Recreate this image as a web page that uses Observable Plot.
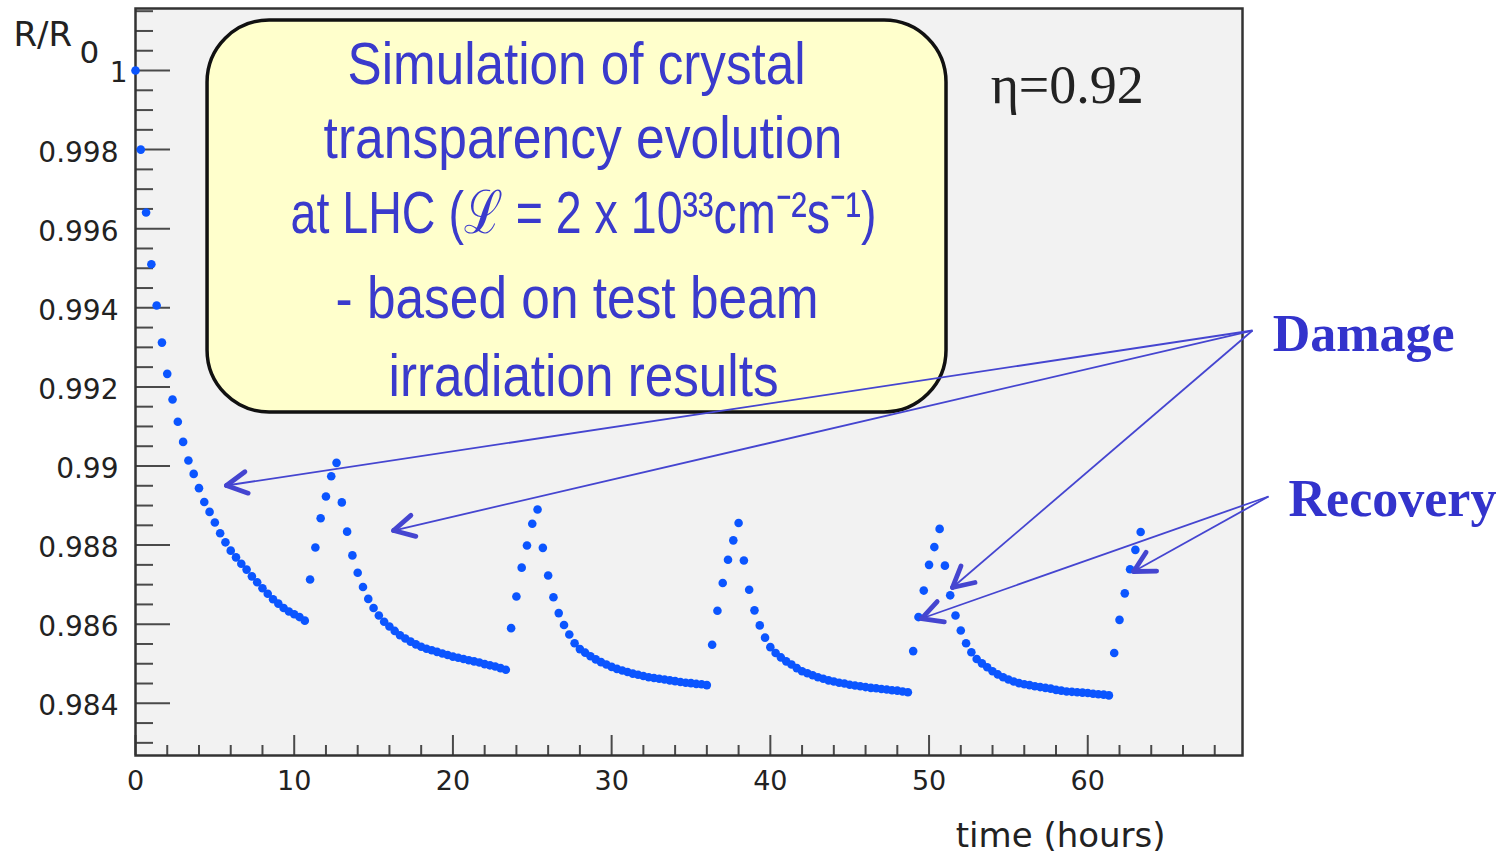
<!DOCTYPE html>
<html>
<head>
<meta charset="utf-8">
<script src="https://cdn.jsdelivr.net/npm/d3@7"></script>
<script src="https://cdn.jsdelivr.net/npm/@observablehq/plot@0.6"></script>
<style>
  html, body { margin: 0; padding: 0; background: #ffffff; }
  #chart svg { display: block; }
</style>
</head>
<body>
<div id="chart"></div>
<script>
// ---------------- DATA ----------------
// Sampling interval of the simulated points (minutes)
const stepMinutes = 20;

// R/R0, one value per sample (every 20 min from t = 0)
const ratio = [
  // fill 1 (damage)
  1.00000, 0.99800, 0.99641, 0.99510, 0.99406, 0.99312, 0.99233, 0.99168, 0.99112, 0.99061,
  0.99014, 0.98980, 0.98944, 0.98909, 0.98884, 0.98857, 0.98830, 0.98807, 0.98786, 0.98769,
  0.98753, 0.98738, 0.98721, 0.98706, 0.98691, 0.98677, 0.98663, 0.98652, 0.98641, 0.98632,
  0.98625, 0.98618, 0.98609,
  // recovery 1
  0.98713, 0.98794, 0.98868, 0.98923, 0.98974,
  // fill 2
  0.99008, 0.98908, 0.98834, 0.98774, 0.98730, 0.98694, 0.98664, 0.98641, 0.98622, 0.98606,
  0.98594, 0.98583, 0.98572, 0.98564, 0.98556, 0.98549, 0.98543, 0.98538, 0.98534, 0.98530,
  0.98526, 0.98522, 0.98518, 0.98515, 0.98512, 0.98509, 0.98506, 0.98503, 0.98499, 0.98496,
  0.98493, 0.98489, 0.98485,
  // recovery 2
  0.98590, 0.98670, 0.98743, 0.98799, 0.98854,
  // fill 3
  0.98890, 0.98793, 0.98723, 0.98668, 0.98628, 0.98598, 0.98574, 0.98552, 0.98537, 0.98528,
  0.98519, 0.98511, 0.98504, 0.98498, 0.98492, 0.98487, 0.98483, 0.98479, 0.98475, 0.98472,
  0.98469, 0.98466, 0.98464, 0.98462, 0.98460, 0.98458, 0.98456, 0.98454, 0.98452, 0.98451,
  0.98449, 0.98448, 0.98446,
  // recovery 3
  0.98548, 0.98634, 0.98704, 0.98763, 0.98812,
  // fill 4
  0.98856, 0.98761, 0.98687, 0.98635, 0.98597, 0.98566, 0.98542, 0.98527, 0.98516, 0.98506,
  0.98498, 0.98489, 0.98481, 0.98476, 0.98471, 0.98466, 0.98462, 0.98458, 0.98455, 0.98452,
  0.98450, 0.98447, 0.98445, 0.98443, 0.98441, 0.98439, 0.98438, 0.98436, 0.98435, 0.98433,
  0.98432, 0.98430, 0.98428,
  // recovery 4
  0.98532, 0.98618, 0.98685, 0.98750, 0.98795,
  // fill 5
  0.98841, 0.98748, 0.98673, 0.98622, 0.98584, 0.98552, 0.98529, 0.98512, 0.98501, 0.98491,
  0.98481, 0.98473, 0.98466, 0.98460, 0.98455, 0.98451, 0.98448, 0.98446, 0.98443, 0.98441,
  0.98439, 0.98437, 0.98434, 0.98432, 0.98430, 0.98429, 0.98428, 0.98427, 0.98426, 0.98424,
  0.98423, 0.98422, 0.98420,
  // recovery 5
  0.98527, 0.98611, 0.98678, 0.98739, 0.98788, 0.98833
];

// Tick values
const xMajorTicks = [0, 10, 20, 30, 40, 50, 60];
const yMajorTicks = [0.984, 0.986, 0.988, 0.99, 0.992, 0.994, 0.996, 0.998, 1];

// Text content
const yAxisTitle = "R/R";
const yAxisTitleSub = "0";
const xAxisTitle = "time (hours)";
const etaLabel = "η=0.92";
const boxLines = [
  "Simulation of crystal",
  "transparency evolution",
  "at LHC (ℒ = 2 x 10³³cm⁻²s⁻¹)",
  "- based on test beam",
  "irradiation results"
];
const arrowLabels = ["Damage", "Recovery"];

// Annotation anchors (data units: hours, R/R0)
const boxLineCenterX = [27.79, 28.2, 28.23, 27.82, 28.23];
const boxLineBaseline = [0.99965, 0.99778, 0.99590, 0.99373, 0.99178];
const boxCorners = {x1: 4.54, x2: 51.1, y1: 0.991353, y2: 1.001264};
const arrowSources = [
  {x: 70.38, y: 0.993426}, // Damage
  {x: 71.39, y: 0.989229}  // Recovery
];
const arrowTips = [
  {src: 0, x: 5.73,  y: 0.989507},
  {src: 0, x: 16.26, y: 0.988369},
  {src: 0, x: 51.48, y: 0.986928},
  {src: 1, x: 49.53, y: 0.986144},
  {src: 1, x: 62.89, y: 0.987332}
];
const arrowLabelPos = [
  {x: 71.65, y: 0.99292},
  {x: 72.65, y: 0.988748}
];
const etaPos = {x: 53.88, y: 0.999166};
const yTitlePos = {x: -7.69, y: 1.000632};
const yTitleSubPos = {x: -3.53, y: 1.000202};
const xTitlePos = {x: 64.9, y: 0.980354};

// ---------------- LAYOUT / STYLE ----------------
const W = 1507, H = 855;
const mLeft = 135, mRight = 265, mTop = 8, mBottom = 100;
const xDomain = [0, 69.75];
const yDomain = [0.98268, 1.001568];
// rendered widths (px) of the condensed box lines
const boxLineWidthPx = [458, 519, 586, 483, 390];

const points = ratio.map((v, i) => ({t: i * stepMinutes / 60, v}));

const yMinorTicks = d3.range(1966, 2004).map(i => i / 2000)
  .filter(v => !yMajorTicks.some(m => Math.abs(m - v) < 1e-9));
const xMinorTicks = d3.range(2, 70, 2).filter(v => v % 10 !== 0);

// pixels per data unit (for arrowhead geometry)
const kx = (W - mLeft - mRight) / (xDomain[1] - xDomain[0]);
const ky = (H - mTop - mBottom) / (yDomain[1] - yDomain[0]);
const headLen = 23, headHalfAngle = 28;

const shafts = arrowTips.map(t => ({
  x1: arrowSources[t.src].x, y1: arrowSources[t.src].y, x2: t.x, y2: t.y
}));
const wings = arrowTips.flatMap(t => {
  const s = arrowSources[t.src];
  const px = (s.x - t.x) * kx, py = -(s.y - t.y) * ky;
  const len = Math.hypot(px, py);
  const ux = px / len, uy = py / len;
  return [-1, 1].map(sg => {
    const a = sg * headHalfAngle * Math.PI / 180;
    const wx = (ux * Math.cos(a) - uy * Math.sin(a)) * headLen;
    const wy = (ux * Math.sin(a) + uy * Math.cos(a)) * headLen;
    return {x1: t.x, y1: t.y, x2: t.x + wx / kx, y2: t.y - wy / ky};
  });
});

const frameW = W - mLeft - mRight, frameH = H - mTop - mBottom;
const blue = "#3a3acc";
const arrowBlue = "#4545d0";
const axisGray = "#4a4a4a";
const fmt = d => String(Math.round(d * 1e4) / 1e4);

const chart = Plot.plot({
  width: W,
  height: H,
  marginLeft: mLeft,
  marginRight: mRight,
  marginTop: mTop,
  marginBottom: mBottom,
  style: {fontFamily: "DejaVu Sans, sans-serif", background: "#ffffff", color: "#222"},
  x: {domain: xDomain},
  y: {domain: yDomain},
  marks: [
    Plot.frame({fill: "#f2f2f2", stroke: null}),
    // inward ticks
    Plot.tickY(yMajorTicks, {y: d => d, stroke: axisGray, strokeWidth: 2, insetRight: frameW - 35}),
    Plot.tickY(yMinorTicks, {y: d => d, stroke: axisGray, strokeWidth: 2, insetRight: frameW - 18}),
    Plot.tickX(xMajorTicks, {x: d => d, stroke: axisGray, strokeWidth: 2, insetTop: frameH - 20}),
    Plot.tickX(xMinorTicks, {x: d => d, stroke: axisGray, strokeWidth: 2, insetTop: frameH - 10}),
    Plot.frame({stroke: "#333", strokeWidth: 2.5}),
    Plot.axisY({ticks: yMajorTicks.filter(d => d !== 1), tickSize: 0, tickPadding: 17, fontSize: 28,
      label: null, tickFormat: fmt, dy: 3}),
    Plot.axisY({ticks: [1], tickSize: 0, tickPadding: 8, fontSize: 28, label: null, tickFormat: fmt, dy: 3}),
    Plot.axisX({ticks: xMajorTicks, tickSize: 0, tickPadding: 15, fontSize: 27, label: null}),
    // axis titles
    Plot.text([yAxisTitle], {x: yTitlePos.x, y: yTitlePos.y, text: d => d, textAnchor: "start",
      lineAnchor: "bottom", fontSize: 34, fill: "#222"}),
    Plot.text([yAxisTitleSub], {x: yTitleSubPos.x, y: yTitleSubPos.y, text: d => d, textAnchor: "start",
      lineAnchor: "bottom", fontSize: 31, fill: "#222"}),
    Plot.text([xAxisTitle], {x: xTitlePos.x, y: xTitlePos.y, text: d => d, textAnchor: "end",
      lineAnchor: "bottom", fontSize: 34, fill: "#222"}),
    // data
    Plot.dot(points, {x: "t", y: "v", r: 4.3, fill: "#0b55ff", stroke: null}),
    // annotation box
    Plot.rect([boxCorners], {x1: "x1", x2: "x2", y1: "y1", y2: "y2", rx: 62,
      fill: "#ffffcc", stroke: "#111", strokeWidth: 3.5}),
    Plot.text(boxLines, {x: (d, i) => boxLineCenterX[i], y: (d, i) => boxLineBaseline[i], text: d => d,
      textAnchor: "middle", lineAnchor: "bottom", fontSize: 60,
      fontFamily: "Liberation Sans, Arial, sans-serif", fill: blue}),
    Plot.text([etaLabel], {x: etaPos.x, y: etaPos.y, text: d => d, textAnchor: "start",
      lineAnchor: "bottom", fontSize: 54, fontFamily: "Liberation Serif, Times New Roman, serif", fill: "#222"}),
    // arrows
    Plot.link(shafts, {x1: "x1", y1: "y1", x2: "x2", y2: "y2", stroke: arrowBlue, strokeWidth: 1.8}),
    Plot.link(wings, {x1: "x1", y1: "y1", x2: "x2", y2: "y2", stroke: arrowBlue, strokeWidth: 4.8,
      strokeLinecap: "round"}),
    Plot.text(arrowLabels, {x: (d, i) => arrowLabelPos[i].x, y: (d, i) => arrowLabelPos[i].y, text: d => d,
      textAnchor: "start", lineAnchor: "bottom", fontSize: 52, fontWeight: "bold",
      fontFamily: "Liberation Serif, Times New Roman, serif", fill: "#3333cc"})
  ]
});

// condense the box lines to the narrow face used in the original
d3.select(chart).selectAll("text").each(function () {
  const i = boxLines.indexOf(this.textContent);
  if (i >= 0) {
    this.setAttribute("textLength", boxLineWidthPx[i]);
    this.setAttribute("lengthAdjust", "spacingAndGlyphs");
  }
});

document.getElementById("chart").appendChild(chart);
</script>
</body>
</html>
